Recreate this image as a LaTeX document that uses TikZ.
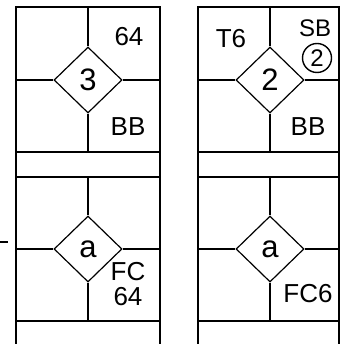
\documentclass[tikz,border=0pt]{standalone}
\usepackage{fontspec}
\setmainfont{Liberation Sans}
\usetikzlibrary{shapes.geometric}

\begin{document}
\begin{tikzpicture}[x=1pt, y=-1pt, line width=2.4pt,
    dia/.style={draw, diamond, line width=1.2pt, inner sep=0pt,
                minimum width=68pt, minimum height=66pt, font=\fontsize{31}{31}\selectfont},
    lbl/.style={inner sep=0pt, font=\fontsize{26}{26}\selectfont, align=center}]

    \useasboundingbox (0,0) rectangle (342,344);

    % --- Coordinates ---
    \coordinate (A1) at (16,7);
    \coordinate (A2) at (160,7);
    \coordinate (A3) at (16,344);
    \coordinate (A4) at (160,344);
    \coordinate (B1) at (198,7);
    \coordinate (B2) at (339,7);
    \coordinate (B3) at (198,344);
    \coordinate (B4) at (339,344);

    % --- Diamonds ---
    \node[dia] (d1) at (88,80) {3};
    \node[dia] (d2) at (270,80) {2};
    \node[dia] (d3) at (88,249) {a};
    \node[dia] (d4) at (270,249) {a};

    % --- Frames ---
    \draw (A3) -- (A1) -- (A2) -- (A4);
    \draw (B3) -- (B1) -- (B2) -- (B4);
    \draw (16,152) -- (160,152);
    \draw (16,177) -- (160,177);
    \draw (16,321) -- (160,321);
    \draw (198,152) -- (339,152);
    \draw (198,177) -- (339,177);
    \draw (198,321) -- (339,321);

    % --- Cross lines into the diamonds ---
    \draw (88,7) -- (d1.north);
    \draw (d1.south) -- (88,152);
    \draw (16,80) -- (d1.west);
    \draw (d1.east) -- (160,80);
    \draw (270,7) -- (d2.north);
    \draw (d2.south) -- (270,152);
    \draw (198,80) -- (d2.west);
    \draw (d2.east) -- (339,80);
    \draw (88,177) -- (d3.north);
    \draw (d3.south) -- (88,321);
    \draw (16,249) -- (d3.west);
    \draw (d3.east) -- (160,249);
    \draw (270,177) -- (d4.north);
    \draw (d4.south) -- (270,321);
    \draw (198,249) -- (d4.west);
    \draw (d4.east) -- (339,249);

    % short tick on the left
    \draw (0,242) -- (8,242);

    % --- Labels ---
    \node[lbl] (t1) at (129,37) {64};
    \node[lbl] (t2) at (128,127) {BB};
    \node[lbl] (t3) at (231,39) {T6};
    \node[lbl, font=\fontsize{24}{24}\selectfont] (t4) at (315,28) {SB};
    \node[draw, circle, line width=1.4pt, minimum size=29pt, inner sep=0pt,
          font=\fontsize{24}{24}\selectfont] (t5) at (317,58) {2};
    \node[lbl] (t6) at (308,127) {BB};
    \node[lbl] (t7) at (128,272) {FC};
    \node[lbl] (t8) at (128,297) {64};
    \node[lbl] (t9) at (308,294) {FC6};

\end{tikzpicture}
\end{document}
